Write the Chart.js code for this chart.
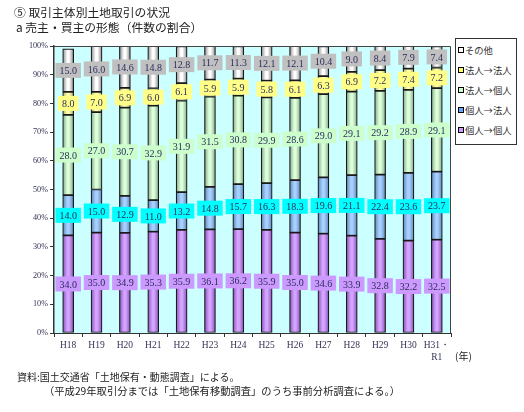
<!DOCTYPE html>
<html>
<head>
<meta charset="utf-8">
<script src="https://cdn.jsdelivr.net/npm/chart.js@4"></script>
<style>
  body { margin: 0; background: #fff; }
  #wrap { position: relative; width: 524px; height: 412px; font-family: "Noto Sans CJK JP", sans-serif; color: #222; }
  canvas { position: absolute; left: 0; top: 0; }
  .t { position: absolute; white-space: nowrap; line-height: 1; }
  #legend { position: absolute; left: 455px; top: 38px; width: 62px; height: 107px; border: 1px solid #333;
            box-sizing: border-box; background: #fff; font-size: 9.3px; color: #333; }
  #legend div { position: absolute; left: 2px; white-space: nowrap; line-height: 1; }
  #legend span { display: inline-block; width: 4px; height: 4px; border: 1px solid #000; margin-right: 1px; vertical-align: 1px; }
</style>
</head>
<body>
<div id="wrap">
  <canvas id="chart" width="524" height="412"></canvas>
  <div class="t" style="left:14px;top:6px;font-size:11.8px;">⑤ 取引主体別土地取引の状況</div>
  <div class="t" style="left:16px;top:21px;font-size:11.8px;">a 売主・買主の形態（件数の割合）</div>
  <div id="legend"></div>
  <div class="t" style="left:455px;top:351px;font-size:10px;">(年)</div>
  <div class="t" style="left:17px;top:372px;font-size:10px;">資料:国土交通省「土地保有・動態調査」による。</div>
  <div class="t" style="left:44px;top:386px;font-size:10.3px;">（平成29年取引分までは「土地保有移動調査」のうち事前分析調査による。）</div>
</div>
<script>
// years on the x axis
const years = ['H18', 'H19', 'H20', 'H21', 'H22', 'H23', 'H24', 'H25', 'H26', 'H27', 'H28', 'H29', 'H30', ['H31・', 'R1']];

// shares (%) per seller -> buyer type, bottom to top
const kojinKojin = [34.0, 35.0, 34.9, 35.3, 35.9, 36.1, 36.2, 35.9, 35.0, 34.6, 33.9, 32.8, 32.2, 32.5];
const kojinHojin = [14.0, 15.0, 12.9, 11.0, 13.2, 14.8, 15.7, 16.3, 18.3, 19.6, 21.1, 22.4, 23.6, 23.7];
const hojinKojin = [28.0, 27.0, 30.7, 32.9, 31.9, 31.5, 30.8, 29.9, 28.6, 29.0, 29.1, 29.2, 28.9, 29.1];
const hojinHojin = [8.0, 7.0, 6.9, 6.0, 6.1, 5.9, 5.9, 5.8, 6.1, 6.3, 6.9, 7.2, 7.4, 7.2];
const sonota = [15.0, 16.0, 14.6, 14.8, 12.8, 11.7, 11.3, 12.1, 12.1, 10.4, 9.0, 8.4, 7.9, 7.4];

const seriesNames = ['個人→個人', '個人→法人', '法人→個人', '法人→法人', 'その他'];

const BAR_W = 11;

// bar fill: light in the middle, darker at the edges (cylinder look)
function shade(light, dark) {
  return function(ctx) {
    const chart = ctx.chart;
    const xs = chart.scales.x;
    if (!xs || ctx.dataIndex === undefined) return light;
    const x = xs.getPixelForValue(ctx.dataIndex);
    if (!isFinite(x)) return light;
    const g = chart.ctx.createLinearGradient(x - BAR_W / 2, 0, x + BAR_W / 2, 0);
    g.addColorStop(0, dark);
    g.addColorStop(0.42, light);
    g.addColorStop(0.58, light);
    g.addColorStop(1, dark);
    return g;
  };
}

const barLight = ['#d4a4ff', '#a8d0ff', '#dcffdc', '#ffffb0', '#ffffff'];
const barDark = ['#8650b8', '#5a86b8', '#84a884', '#b0b060', '#8a8a8a'];
const labelBg = ['#cc99ff', '#00ffff', '#ccffcc', '#ffff88', '#c0c0c0'];
const legendSwatch = ['#cc99ff', '#66aaff', '#ccffcc', '#ffff66', '#ffffff'];

const allData = [kojinKojin, kojinHojin, hojinKojin, hojinHojin, sonota];

const datasets = allData.map((d, i) => ({
  label: seriesNames[i],
  data: d,
  backgroundColor: shade(barLight[i], barDark[i]),
  borderColor: '#1a1a1a',
  borderWidth: 1.2,
  borderSkipped: false,
  barThickness: BAR_W
}));

// html legend, top to bottom = その他 first
const legend = document.getElementById('legend');
for (let i = seriesNames.length - 1; i >= 0; i--) {
  const row = document.createElement('div');
  row.style.top = (7 + (seriesNames.length - 1 - i) * 20) + 'px';
  row.innerHTML = '<span style="background:' + legendSwatch[i] + '"></span>' + seriesNames[i];
  legend.appendChild(row);
}

// cyan plot background + frame
const plotBg = {
  id: 'plotBg',
  beforeDraw(chart) {
    const a = chart.chartArea;
    const c = chart.ctx;
    c.save();
    c.fillStyle = '#ccffff';
    c.fillRect(a.left, a.top, a.right - a.left, a.bottom - a.top);
    c.restore();
  },
  afterDatasetsDraw(chart) {
    const a = chart.chartArea;
    const c = chart.ctx;
    c.save();
    c.strokeStyle = '#444';
    c.lineWidth = 1;
    c.beginPath();
    c.moveTo(a.left, a.top + 0.5);
    c.lineTo(a.right - 0.5, a.top + 0.5);
    c.lineTo(a.right - 0.5, a.bottom);
    c.stroke();
    c.restore();
  }
};

// value boxes in the middle of each segment
const segLabels = {
  id: 'segLabels',
  afterDatasetsDraw(chart) {
    const c = chart.ctx;
    c.save();
    c.font = '10px "Liberation Serif", serif';
    c.textAlign = 'center';
    c.textBaseline = 'middle';
    chart.data.datasets.forEach((ds, i) => {
      const meta = chart.getDatasetMeta(i);
      meta.data.forEach((bar, j) => {
        const y = (bar.y + bar.base) / 2;
        const txt = ds.data[j].toFixed(1);
        const w = c.measureText(txt).width + 8;
        const h = 15;
        c.fillStyle = labelBg[i];
        c.fillRect(bar.x - w / 2, y - h / 2, w, h);
        c.fillStyle = '#2b2b5c';
        c.fillText(txt, bar.x, y + 1);
      });
    });
    c.restore();
  }
};

new Chart(document.getElementById('chart'), {
  type: 'bar',
  data: { labels: years, datasets: datasets },
  options: {
    responsive: false,
    animation: false,
    layout: { padding: { left: 0, top: 46, right: 73, bottom: 0 } },
    plugins: { legend: { display: false }, tooltip: { enabled: false } },
    scales: {
      x: {
        stacked: true,
        grid: { display: true, drawOnChartArea: false, drawTicks: true, tickLength: 4, color: '#333', offset: true },
        border: { color: '#333', width: 1 },
        ticks: { font: { family: '"Liberation Serif", serif', size: 9.5 }, color: '#333355', padding: 3,
                 maxRotation: 0, autoSkip: false },
        afterFit(s) { s.height = 79; }
      },
      y: {
        stacked: true,
        min: 0,
        max: 100,
        grid: { display: true, drawOnChartArea: false, drawTicks: true, tickLength: 4, color: '#333' },
        border: { color: '#333', width: 1.5 },
        ticks: { stepSize: 10, callback: v => v + '%', font: { family: '"Liberation Serif", serif', size: 8.2 },
                 color: '#333355', padding: 2 },
        afterFit(s) { s.width = 54; }
      }
    }
  },
  plugins: [plotBg, segLabels]
});
</script>
</body>
</html>
